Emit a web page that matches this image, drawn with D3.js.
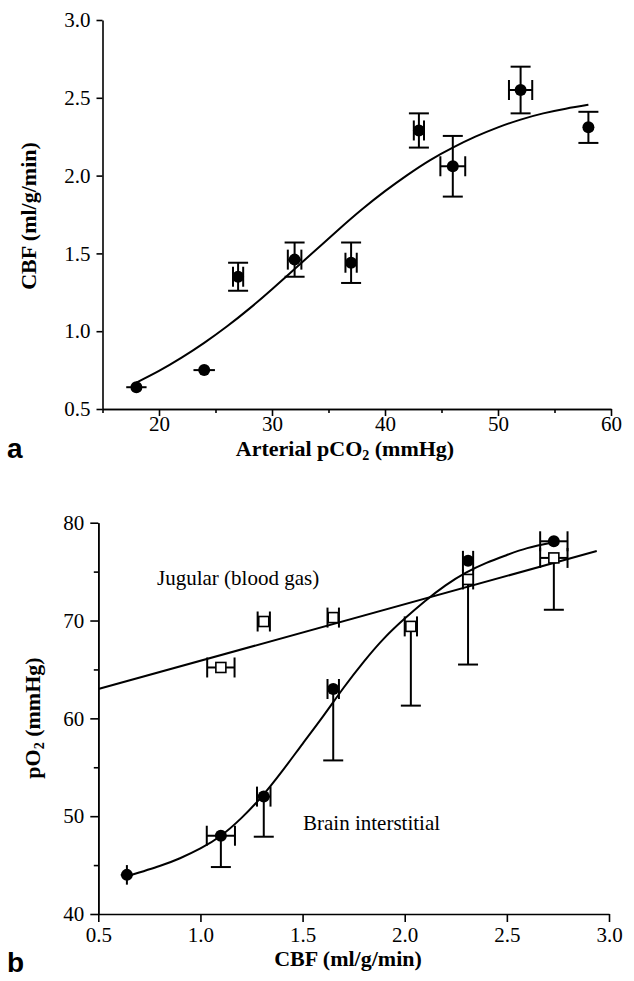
<!DOCTYPE html>
<html><head><meta charset="utf-8">
<script src="https://cdn.jsdelivr.net/npm/d3@7"></script>
<style>
body{margin:0;background:#fff}
svg{display:block}
text{font-family:"Liberation Serif","Times New Roman",serif;fill:#000}
</style>
</head><body><svg id="c" width="634" height="981"></svg>
<script>
// ---------- Panel a data ----------
const pco2 = [18, 24, 27, 32, 37, 43, 46, 52, 58];
const cbfA = [0.64, 0.75, 1.35, 1.46, 1.44, 2.29, 2.06, 2.55, 2.31];
const cbfAErr = [0, 0, 0.09, 0.11, 0.13, 0.11, 0.195, 0.15, 0.10];
const pco2Err = [0.9, 0.95, 0.45, 0.6, 0.5, 0.45, 1.1, 1.03, 0];
const fitAX = [18, 20, 22, 24, 26, 28, 30, 32, 34, 36, 38, 40, 42, 44, 46, 48, 50, 52, 54, 56, 58];
const fitAY = [0.67, 0.745, 0.83, 0.925, 1.03, 1.145, 1.27, 1.40, 1.53, 1.66, 1.785, 1.90, 2.005, 2.10, 2.18, 2.25, 2.31, 2.36, 2.40, 2.43, 2.455];
const ticksAX = [20, 30, 40, 50, 60];
const minorAX = [15, 25, 35, 45, 55];
const ticksAY = [0.5, 1.0, 1.5, 2.0, 2.5, 3.0];

// ---------- Panel b data ----------
const cbfB = [0.64, 1.10, 1.31, 1.65, 2.31, 2.73];
const po2Brain = [44.0, 48.0, 52.0, 63.0, 76.1, 78.1];
const brainErrLo = [1.0, 3.2, 4.1, 7.3, 0, 0];
const brainErrHi = [1.0, 0, 0, 0, 0, 0];
const brainXErr = [0.03, 0.069, 0.033, 0.028, 0.025, 0.067];
const cbfJ = [1.10, 1.31, 1.65, 2.03, 2.31, 2.73];
const po2Jug = [65.2, 69.9, 70.3, 69.4, 74.2, 76.4];
const jugErrLo = [0, 0, 0, 8.1, 8.7, 5.3];
const jugXErr = [0.067, 0.03, 0.028, 0.03, 0.025, 0.067];
const jugLineX = [0.5, 2.94];
const jugLineY = [63.0, 77.1];
const fitBX = [0.65, 0.8, 0.9, 1.0, 1.1, 1.2, 1.3, 1.4, 1.5, 1.6, 1.7, 1.8, 1.9, 2.0, 2.1, 2.2, 2.3, 2.4, 2.5, 2.6, 2.73];
const fitBY = [43.9, 44.9, 45.7, 46.7, 48.0, 49.8, 52.0, 54.6, 57.4, 60.2, 63.1, 65.8, 68.2, 70.2, 72.0, 73.6, 74.9, 75.9, 76.7, 77.4, 78.0];
const ticksBX = [0.5, 1.0, 1.5, 2.0, 2.5, 3.0];
const ticksBY = [40, 50, 60, 70, 80];
const minorBY = [45, 55, 65, 75];

const SERIF = '"Liberation Serif","Times New Roman",serif';
const svg = d3.select("#c");
const fmt1 = d3.format(".1f");
const SW = 2;

function styleAxis(g){
  g.attr("font-family", SERIF).attr("font-size", 21);
  g.selectAll("path.domain").attr("stroke","#000").attr("stroke-width",1.6);
  g.selectAll(".tick line").attr("stroke","#000").attr("stroke-width",1.6);
  g.selectAll(".tick text").attr("font-family", SERIF).style("font-family", SERIF).style("font-size","21px").attr("fill","#000");
}

// noCap: set of indices whose bars are drawn without end caps
function errBars(g, xs, ys, xErr, yLo, yHi, x, y, noCap){
  const cap = 10;
  xs.forEach((xv,i)=>{
    const yv = ys[i];
    const px = x(xv), py = y(yv);
    const caps = !noCap.has(i);
    if (yLo[i] > 0 || yHi[i] > 0){
      const y1 = y(yv - yLo[i]), y2 = y(yv + yHi[i]);
      g.append("line").attr("x1",px).attr("x2",px).attr("y1",y1).attr("y2",y2).attr("stroke","#000").attr("stroke-width",SW);
      if (caps && yLo[i] > 0) g.append("line").attr("x1",px-cap).attr("x2",px+cap).attr("y1",y1).attr("y2",y1).attr("stroke","#000").attr("stroke-width",SW);
      if (caps && yHi[i] > 0) g.append("line").attr("x1",px-cap).attr("x2",px+cap).attr("y1",y2).attr("y2",y2).attr("stroke","#000").attr("stroke-width",SW);
    }
    if (xErr[i] > 0){
      const x1 = x(xv - xErr[i]), x2 = x(xv + xErr[i]);
      g.append("line").attr("x1",x1).attr("x2",x2).attr("y1",py).attr("y2",py).attr("stroke","#000").attr("stroke-width",SW);
      if (caps){
        g.append("line").attr("x1",x1).attr("x2",x1).attr("y1",py-cap).attr("y2",py+cap).attr("stroke","#000").attr("stroke-width",SW);
        g.append("line").attr("x1",x2).attr("x2",x2).attr("y1",py-cap).attr("y2",py+cap).attr("stroke","#000").attr("stroke-width",SW);
      }
    }
  });
}

// ================= Panel a =================
const xA = d3.scaleLinear().domain([15, 60]).range([102.5, 611]);
const yA = d3.scaleLinear().domain([0.5, 3.0]).range([409, 20]);
const gA = svg.append("g");

const axAX = gA.append("g").attr("transform","translate(0,409)")
  .call(d3.axisBottom(xA).tickValues(ticksAX).tickSize(7).tickSizeOuter(0).tickPadding(0).tickFormat(d3.format("d")));
styleAxis(axAX);
const axAXm = gA.append("g").attr("transform","translate(0,409)")
  .call(d3.axisBottom(xA).tickValues(minorAX).tickSize(4).tickSizeOuter(0).tickFormat(""));
styleAxis(axAXm);
const axAY = gA.append("g").attr("transform","translate(102.5,0)")
  .call(d3.axisLeft(yA).tickValues(ticksAY).tickSize(6).tickSizeOuter(0).tickPadding(6).tickFormat(fmt1));
styleAxis(axAY);

gA.append("path")
  .datum(fitAX.map((v,i)=>[v, fitAY[i]]))
  .attr("d", d3.line().x(d=>xA(d[0])).y(d=>yA(d[1])).curve(d3.curveNatural))
  .attr("fill","none").attr("stroke","#000").attr("stroke-width",2);

errBars(gA, pco2, cbfA, pco2Err, cbfAErr, cbfAErr, xA, yA, new Set([0,1]));
gA.selectAll("circle.pa").data(pco2).enter().append("circle")
  .attr("cx",(d)=>xA(d)).attr("cy",(d,i)=>yA(cbfA[i])).attr("r",6).attr("fill","#000");

gA.append("text").attr("x",345).attr("y",456).attr("text-anchor","middle")
  .style("font-size","22px").style("font-weight","bold")
  .call(t=>{ t.append("tspan").text("Arterial pCO");
             t.append("tspan").attr("dy",4).style("font-size","14px").text("2");
             t.append("tspan").attr("dy",-4).text(" (mmHg)"); });
gA.append("text").attr("transform","translate(36,216) rotate(-90)").attr("text-anchor","middle")
  .style("font-size","22px").style("font-weight","bold").text("CBF (ml/g/min)");
gA.append("text").attr("x",7).attr("y",458)
  .style("font-family",'"Liberation Sans",Arial,sans-serif').style("font-size","28px").style("font-weight","bold").text("a");

// ================= Panel b =================
const xB = d3.scaleLinear().domain([0.5, 3.0]).range([98.3, 609]);
const yB = d3.scaleLinear().domain([40, 80]).range([914, 522.7]);
const gB = svg.append("g");

const axBX = gB.append("g").attr("transform","translate(0,914)")
  .call(d3.axisBottom(xB).tickValues(ticksBX).tickSize(8).tickSizeOuter(0).tickPadding(5).tickFormat(fmt1));
styleAxis(axBX);
const axBY = gB.append("g").attr("transform","translate(98.3,0)")
  .call(d3.axisLeft(yB).tickValues(ticksBY).tickSize(8).tickSizeOuter(0).tickPadding(6).tickFormat(d3.format("d")));
styleAxis(axBY);
const axBYm = gB.append("g").attr("transform","translate(98.3,0)")
  .call(d3.axisLeft(yB).tickValues(minorBY).tickSize(4.5).tickSizeOuter(0).tickFormat(""));
styleAxis(axBYm);

gB.append("path")
  .datum(jugLineX.map((v,i)=>[v, jugLineY[i]]))
  .attr("d", d3.line().x(d=>xB(d[0])).y(d=>yB(d[1])))
  .attr("fill","none").attr("stroke","#000").attr("stroke-width",2);
gB.append("path")
  .datum(fitBX.map((v,i)=>[v, fitBY[i]]))
  .attr("d", d3.line().x(d=>xB(d[0])).y(d=>yB(d[1])).curve(d3.curveNatural))
  .attr("fill","none").attr("stroke","#000").attr("stroke-width",2);

const zeros = cbfJ.map(()=>0);
errBars(gB, cbfJ, po2Jug, jugXErr, jugErrLo, zeros, xB, yB, new Set());
errBars(gB, cbfB, po2Brain, brainXErr, brainErrLo, brainErrHi, xB, yB, new Set([0]));

gB.selectAll("rect.j").data(cbfJ).enter().append("rect")
  .attr("x",d=>xB(d)-5).attr("y",(d,i)=>yB(po2Jug[i])-5).attr("width",10).attr("height",10)
  .attr("fill","#fff").attr("stroke","#000").attr("stroke-width",1.6);
gB.selectAll("circle.b").data(cbfB).enter().append("circle")
  .attr("cx",d=>xB(d)).attr("cy",(d,i)=>yB(po2Brain[i])).attr("r",6).attr("fill","#000");

gB.append("text").attr("x",157).attr("y",585).style("font-size","21px").text("Jugular (blood gas)");
gB.append("text").attr("x",303).attr("y",830).style("font-size","21px").text("Brain interstitial");

gB.append("text").attr("x",348).attr("y",966).attr("text-anchor","middle")
  .style("font-size","22px").style("font-weight","bold").text("CBF (ml/g/min)");
gB.append("text").attr("transform","translate(40,718) rotate(-90)").attr("text-anchor","middle")
  .style("font-size","22px").style("font-weight","bold")
  .call(t=>{ t.append("tspan").text("pO");
             t.append("tspan").attr("dy",4).style("font-size","14px").text("2");
             t.append("tspan").attr("dy",-4).text(" (mmHg)"); });
gB.append("text").attr("x",7).attr("y",972)
  .style("font-family",'"Liberation Sans",Arial,sans-serif').style("font-size","28px").style("font-weight","bold").text("b");
</script>
</body></html>
